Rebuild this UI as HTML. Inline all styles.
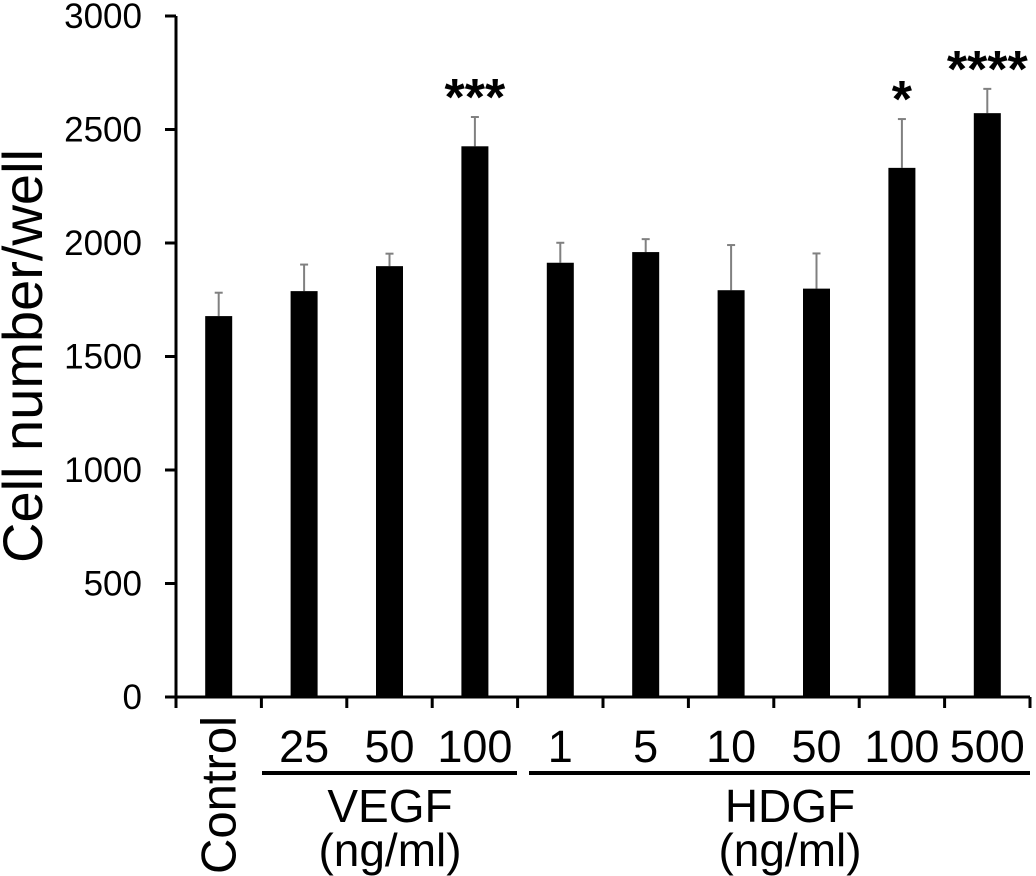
<!DOCTYPE html>
<html><head><meta charset="utf-8"><style>
html,body{margin:0;padding:0;background:#fff;}
svg{display:block;font-family:"Liberation Sans",Arial,sans-serif;}
</style></head><body>
<svg id="chart" width="1036" height="876" viewBox="0 0 1036 876">
<g id="axes"></g><g id="bars"></g><g id="labels"></g>
<text x="42" y="356" transform="rotate(-90 42 356)" text-anchor="middle" font-size="56">Cell number/well</text>
<line x1="262" y1="773" x2="517" y2="773" stroke="#000" stroke-width="4"/>
<line x1="529" y1="773" x2="1030" y2="773" stroke="#000" stroke-width="4"/>
<text x="390" y="822" text-anchor="middle" font-size="46">VEGF</text>
<text x="390" y="866" text-anchor="middle" font-size="46">(ng/ml)</text>
<text x="790" y="822" text-anchor="middle" font-size="46">HDGF</text>
<text x="790" y="866" text-anchor="middle" font-size="46">(ng/ml)</text>
</svg>
<script>
const categories = ["Control","25","50","100","1","5","10","50","100","500"];
const means = [1678,1788,1898,2426,1913,1960,1792,1799,2331,2572];
const errors = [103,117,55,129,88,57,199,155,215,107];
const stars = ["","","","***","","","","","*","****"];
const yTicks = [0,500,1000,1500,2000,2500,3000];

const NS = "http://www.w3.org/2000/svg";
const X0 = 176, X1 = 1030, Y0 = 697, Y1 = 16, YMAX = 3000;
const band = (X1 - X0) / categories.length;
const y = v => Y0 - (v / YMAX) * (Y0 - Y1);
const xc = i => X0 + band * (i + 0.5);
function mk(tag, attrs, parent){const e=document.createElementNS(NS,tag);for(const k in attrs)e.setAttribute(k,attrs[k]);parent.appendChild(e);return e;}
const axes=document.getElementById('axes'), bars=document.getElementById('bars'), labels=document.getElementById('labels');

let ax = mk('line',{x1:X0,y1:Y1,x2:X0,y2:Y0+1,stroke:'#000','stroke-width':3},axes);


ax = mk('line',{x1:X0-1,y1:Y0,x2:X1,y2:Y0,stroke:'#000','stroke-width':3},axes);



yTicks.forEach(t=>{
  const l=mk('line',{x1:X0-11,y1:y(t),x2:X0,y2:y(t),stroke:'#000','stroke-width':3},axes);
  
  
  const tx=mk('text',{x:142,y:y(t)+12,'text-anchor':'end','font-size':35},axes);
  tx.textContent=t;
  
  
});
for(let i=0;i<=categories.length;i++){
  const l=mk('line',{x1:X0+band*i,y1:Y0,x2:X0+band*i,y2:Y0+11,stroke:'#000','stroke-width':3},axes);
  
  
}
categories.forEach((c,i)=>{
  const bw=27, cx=xc(i);
  const top=y(means[i]), et=y(means[i]+errors[i]);
  const eb=mk('line',{x1:cx,y1:top,x2:cx,y2:et,stroke:'#808080','stroke-width':2},bars);
  
  
  const cap=mk('line',{x1:cx-4,y1:et,x2:cx+4,y2:et,stroke:'#808080','stroke-width':2},bars);
  
  
  const r=mk('rect',{x:cx-bw/2,y:top,width:bw,height:Y0-top,fill:'#000'},bars);
  
  
  if(stars[i]){
    const s=mk('text',{x:cx,y:et-2,'text-anchor':'middle','font-size':52,'font-weight':'bold'},labels);
    s.textContent=stars[i];
    
    
  }
  let t;
  if(i===0){
    t=mk('text',{x:0,y:0,'text-anchor':'end','font-size':49,transform:`translate(${cx+17},716) rotate(-90)`},labels);
  } else {
    t=mk('text',{x:cx,y:762,'text-anchor':'middle','font-size':45},labels);
  }
  t.textContent=c;
  
  
});
</script>
</body></html>
